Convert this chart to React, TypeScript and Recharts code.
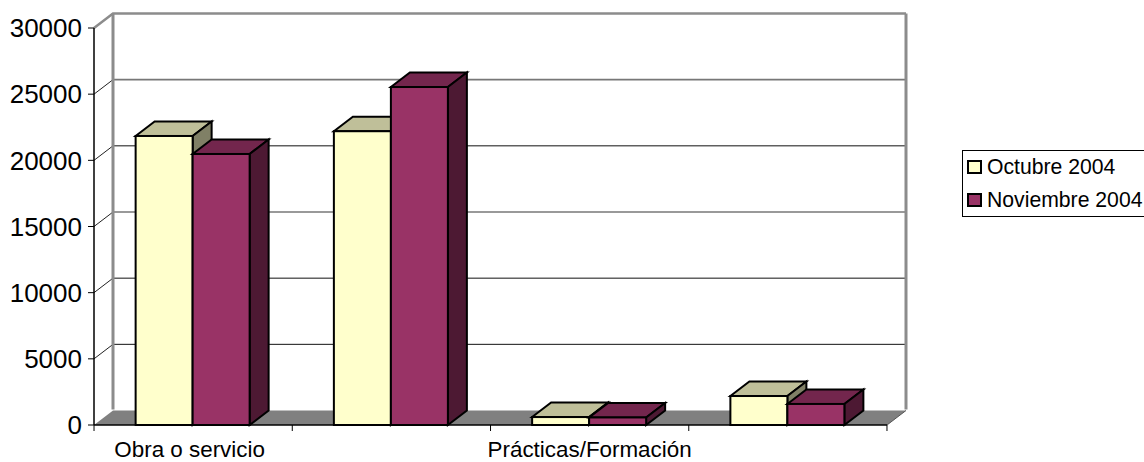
import React from 'react';
import { BarChart, Bar, XAxis, YAxis, CartesianGrid, Legend } from 'recharts';

const categories = ['Obra o servicio', '', 'Prácticas/Formación', ''];
const octubre = [21840, 22200, 600, 2190];
const noviembre = [20480, 25540, 570, 1590];
const yTicks = [0, 5000, 10000, 15000, 20000, 25000, 30000];
// these grid lines come out softer and wider in the original
const softLines = [15000, 25000];

const data = categories.map((name, i) => ({ name, octubre: octubre[i], noviembre: noviembre[i] }));

// offset of the back wall from the front of the fake 3D box
const DX = 19;
const DY = 14.5;
const FONT = '"Liberation Sans", Arial, sans-serif';
const WALL = '#8c8c8c';

const make3DBar = (front: string, top: string, side: string) => (props: any) => {
    const { x, y, width, height } = props;
    const r = x + width;
    const b = y + height;
    return (
        <g stroke="#000" strokeWidth={2} strokeLinejoin="miter">
            <polygon points={`${x},${y} ${x + DX},${y - DY} ${r + DX},${y - DY} ${r},${y}`} fill={top} />
            <polygon points={`${r},${y} ${r + DX},${y - DY} ${r + DX},${b - DY} ${r},${b}`} fill={side} />
            <rect x={x} y={y} width={width} height={height} fill={front} />
        </g>
    );
};

// grid line that runs along the left wall and then the back wall
const WallLine = (props: any) => {
    const { x1, x2, y1, index } = props;
    const isFloor = y1 > 420;
    const isTop = y1 < 30;
    const value = Math.round(((425 - y1) / 397) * 6) * 5000;
    const soft = softLines.includes(value);
    return (
        <g key={`wall-${index}`}>
            {isFloor && (
                <polygon
                    points={`${x1},${y1} ${x1 + DX},${y1 - DY} ${x2 + DX},${y1 - DY} ${x2},${y1}`}
                    fill="#808080"
                    stroke="none"
                />
            )}
            {isFloor && (
                <polyline points={`${x2},${y1} ${x2 + DX},${y1 - DY}`} fill="none" stroke="#555" strokeWidth={1} />
            )}
            {isTop ? (
                <polyline
                    points={`${x1},${y1} ${x1 + DX},${y1 - DY} ${x2 + DX},${y1 - DY}`}
                    fill="none"
                    stroke={WALL}
                    strokeWidth={2.5}
                />
            ) : (
                !isFloor && (
                    <g fill="none">
                        <line x1={x1} y1={y1} x2={x1 + DX} y2={y1 - DY} stroke="#222" strokeWidth={1} />
                        <line
                            x1={x1 + DX}
                            y1={y1 - DY}
                            x2={x2 + DX}
                            y2={y1 - DY}
                            stroke={soft ? '#777' : '#111'}
                            strokeWidth={soft ? 1.6 : 1}
                        />
                    </g>
                )
            )}
            {isTop && (
                <g stroke={WALL} strokeWidth={3}>
                    <line x1={x1 + DX} y1={y1 - DY} x2={x1 + DX} y2={y1 - DY + 396} />
                    <line x1={x2 + DX} y1={y1 - DY} x2={x2 + DX} y2={y1 - DY + 396} />
                </g>
            )}
        </g>
    );
};

// ticks sit between the categories, labels stay in the middle
const CategoryTick = (props: any) => {
    const { x, y, payload, index } = props;
    const half = 99.1;
    return (
        <g>
            <line x1={x - half} y1={y - 8} x2={x - half} y2={y - 2} stroke="#000" />
            {index === categories.length - 1 && (
                <line x1={x + half} y1={y - 8} x2={x + half} y2={y - 2} stroke="#000" />
            )}
            <text
                x={index === 0 ? x - 3.5 : x}
                y={y + 24}
                textAnchor="middle"
                fontSize={22.4}
                fontFamily={FONT}
                fill="#000"
            >
                {payload.value}
            </text>
        </g>
    );
};

const LegendBox = (props: any) => (
    <div
        style={{
            border: '1px solid #000',
            width: 200,
            height: 65,
            boxSizing: 'content-box',
            fontFamily: FONT,
            fontSize: 21.2,
            color: '#000',
        }}
    >
        {(props.payload || []).map((item: any, i: number) => (
            <div key={item.value} style={{ position: 'absolute', left: 5, top: 9 + i * 33, display: 'flex', alignItems: 'center', height: 16 }}>
                <span
                    style={{
                        display: 'inline-block',
                        width: 11,
                        height: 10,
                        border: '2px solid #000',
                        background: item.color,
                        marginRight: 5,
                    }}
                />
                <span style={{ whiteSpace: 'nowrap' }}>{item.value}</span>
            </div>
        ))}
    </div>
);

export default function App() {
    return (
        <div style={{ position: 'absolute', left: 0, top: 0, width: 1144, height: 462, overflow: 'hidden', background: '#fff' }}>
            <BarChart
                width={1144}
                height={462}
                data={data}
                margin={{ top: 28, right: 257, left: 0, bottom: 0 }}
                barCategoryGap="21%"
                barGap={0}
            >
                <CartesianGrid vertical={false} horizontal={WallLine} />
                <XAxis
                    dataKey="name"
                    height={37}
                    interval={0}
                    tick={CategoryTick}
                    tickLine={false}
                    tickSize={6}
                    axisLine={{ stroke: '#000', strokeWidth: 1.5 }}
                />
                <YAxis
                    width={94}
                    domain={[0, 30000]}
                    ticks={yTicks}
                    interval={0}
                    tickSize={6}
                    tickMargin={6}
                    tickLine={{ stroke: '#000' }}
                    axisLine={{ stroke: '#000', strokeWidth: 1.5 }}
                    tick={{ fontSize: 26, fontFamily: FONT, fill: '#000' }}
                />
                <Legend
                    layout="horizontal"
                    verticalAlign="middle"
                    align="center"
                    content={LegendBox}
                    itemSorter={null}
                    wrapperStyle={{ position: 'absolute', left: 962, top: 150, width: 202, height: 67 }}
                />
                <Bar
                    dataKey="octubre"
                    name="Octubre 2004"
                    fill="#ffffcc"
                    isAnimationActive={false}
                    shape={make3DBar('#ffffcc', '#bfbf99', '#808066')}
                />
                <Bar
                    dataKey="noviembre"
                    name="Noviembre 2004"
                    fill="#993366"
                    isAnimationActive={false}
                    shape={make3DBar('#993366', '#73264d', '#4d1933')}
                />
            </BarChart>
        </div>
    );
}
